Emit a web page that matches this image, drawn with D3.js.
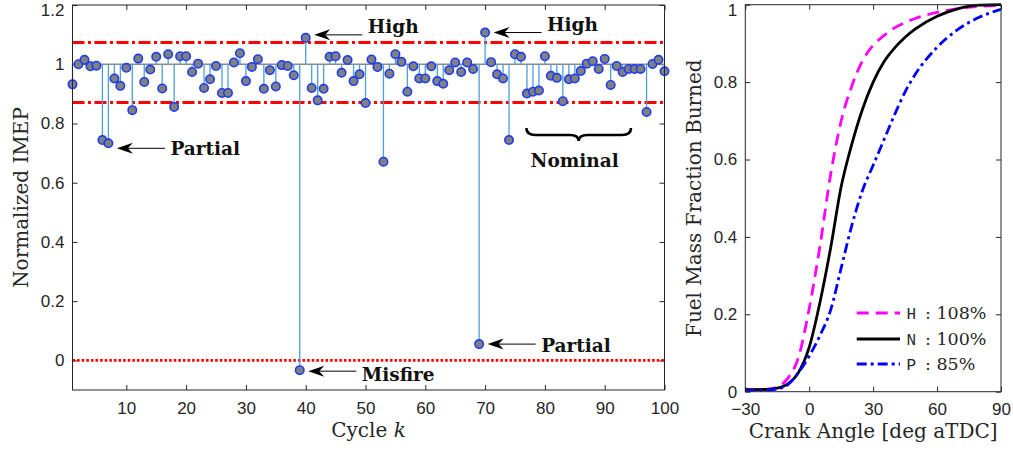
<!DOCTYPE html>
<html>
<head>
<meta charset="utf-8">
<script src="https://cdn.jsdelivr.net/npm/d3@7"></script>
<style>
  body { margin: 0; background: #fff; }
  svg { display: block; }
</style>
</head>
<body>
<svg id="chart" width="1013" height="452"></svg>
<script>
// ---- IMEP per cycle (normalized) ----
const cycles = d3.range(1, 101);
const imep = [
  0.932, 1.000, 1.015, 0.993, 0.995, 0.744, 0.733, 0.952, 0.927, 0.988,
  0.845, 1.019, 0.940, 0.982, 1.025, 0.918, 1.034, 0.856, 1.027, 1.027,
  0.974, 1.002, 0.920, 0.949, 0.994, 0.903, 0.903, 1.006, 1.037, 0.943,
  0.991, 1.017, 0.917, 0.980, 0.925, 0.997, 0.994, 0.963, -0.033, 1.089,
  0.920, 0.878, 0.917, 1.025, 1.027, 0.971, 1.014, 0.943, 0.966, 0.869,
  1.016, 0.991, 0.671, 0.968, 1.034, 1.008, 0.907, 0.993, 0.952, 0.952,
  0.993, 0.943, 0.934, 0.980, 1.006, 0.974, 1.006, 0.984, 0.055, 1.107,
  1.007, 0.966, 0.952, 0.744, 1.034, 1.025, 0.901, 0.907, 0.911, 1.027,
  0.961, 0.954, 0.875, 0.949, 0.952, 0.977, 1.002, 1.010, 0.984, 1.018,
  0.930, 0.994, 0.974, 0.984, 0.984, 0.984, 0.839, 1.001, 1.015, 0.976
];
const stemBase = 1;
const upperLimit = 1.073;
const lowerLimit = 0.871;
const zeroLevel = 0;
const cycleTicks = [10, 20, 30, 40, 50, 60, 70, 80, 90, 100];
const imepTicks = [0, 0.2, 0.4, 0.6, 0.8, 1, 1.2];

// annotated cycles
const notes = [
  { cycle: 7,  label: "Partial", dy: 5,  textDy: 7 },
  { cycle: 40, label: "High",    dy: -3, textDy: -2 },
  { cycle: 70, label: "High",    dy: 0,  textDy: -2 },
  { cycle: 39, label: "Misfire", dy: 1,  textDy: 10 },
  { cycle: 69, label: "Partial", dy: 0,  textDy: 8 }
];
const nominalSpan = [76.9, 94.4];

// ---- mass fraction burned curves ----
const crankAngle = [-30, -20, -15, -10, -5, 0, 5, 10, 15, 20, 25, 30, 35, 40, 45, 50, 60, 70, 80, 90];
const mfbHigh    = [0.005, 0.006, 0.012, 0.035, 0.09, 0.215, 0.375, 0.56, 0.70, 0.79, 0.855, 0.895, 0.92, 0.94, 0.954, 0.965, 0.98, 0.99, 0.996, 0.998];
const mfbNominal = [0.005, 0.006, 0.009, 0.02, 0.05, 0.115, 0.23, 0.37, 0.53, 0.64, 0.73, 0.80, 0.852, 0.888, 0.916, 0.938, 0.97, 0.99, 0.999, 1.0];
const mfbPartial = [0.003, 0.004, 0.007, 0.018, 0.05, 0.092, 0.145, 0.21, 0.32, 0.43, 0.52, 0.585, 0.65, 0.715, 0.775, 0.822, 0.89, 0.937, 0.968, 0.988];
const angleTicks = [-30, 0, 30, 60, 90];
const mfbTicks = [0, 0.2, 0.4, 0.6, 0.8, 1];
const seriesKeys = ["H", "N", "P"];
const seriesText = [": 108%", ": 100%", ": 85%"];

const svg = d3.select("#chart");
const axisColor = "#262626";
const tickFont = "'Liberation Sans', Arial, sans-serif";
const serif = "'DejaVu Serif', serif";

// ================= left panel =================
const L = { x0: 72.5, x1: 664.5, y0: 5, y1: 390 };
const x = d3.scaleLinear().domain([1, 100]).range([L.x0, L.x1]);
const y = d3.scaleLinear().domain([-0.1, 1.2]).range([L.y1, L.y0]);

const left = svg.append("g");

function styleAxis(g) {
  g.select(".domain").remove();
  g.selectAll(".tick line").attr("stroke", axisColor);
  g.selectAll("text").attr("fill", axisColor)
    .style("font-family", tickFont).style("font-size", "17px");
}
// keep the topmost y label inside the page
function nudgeTop(g, topValue) {
  g.selectAll(".tick").filter(d => d === topValue).select("text").attr("y", 5);
}

left.append("g").attr("transform", `translate(0,${L.y1})`)
  .call(d3.axisBottom(x).tickValues(cycleTicks).tickSize(-5).tickPadding(12).tickFormat(d3.format("d")))
  .call(styleAxis);
left.append("g").attr("transform", `translate(0,${L.y0})`)
  .call(d3.axisTop(x).tickValues(cycleTicks).tickSize(-5).tickFormat(""))
  .call(styleAxis);
left.append("g").attr("transform", `translate(${L.x0},0)`)
  .call(d3.axisLeft(y).tickValues(imepTicks).tickSize(-5).tickPadding(8).tickFormat(d => d3.format("")(+d.toFixed(1))))
  .call(styleAxis).call(g => nudgeTop(g, 1.2));
left.append("g").attr("transform", `translate(${L.x1},0)`)
  .call(d3.axisRight(y).tickValues(imepTicks).tickSize(-5).tickFormat(""))
  .call(styleAxis);

// limit lines
left.append("line")
  .attr("x1", L.x0).attr("x2", L.x1).attr("y1", y(upperLimit)).attr("y2", y(upperLimit))
  .attr("stroke", "#ff0000").attr("stroke-width", 3).attr("stroke-dasharray", "12,3.5,3,3.5");
left.append("line")
  .attr("x1", L.x0).attr("x2", L.x1).attr("y1", y(lowerLimit)).attr("y2", y(lowerLimit))
  .attr("stroke", "#ff0000").attr("stroke-width", 3).attr("stroke-dasharray", "12,3.5,3,3.5");
left.append("line")
  .attr("x1", L.x0).attr("x2", L.x1).attr("y1", y(zeroLevel)).attr("y2", y(zeroLevel))
  .attr("stroke", "#ff0000").attr("stroke-width", 2.6).attr("stroke-dasharray", "2.6,2");

// stem baseline
left.append("line")
  .attr("x1", L.x0).attr("x2", L.x1).attr("y1", y(stemBase)).attr("y2", y(stemBase))
  .attr("stroke", "#8a8a8a").attr("stroke-width", 1.6);

// stems
const pts = cycles.map((c, i) => ({ c, v: imep[i] }));
left.append("g").selectAll("line").data(pts).join("line")
  .attr("x1", d => x(d.c)).attr("x2", d => x(d.c))
  .attr("y1", y(stemBase)).attr("y2", d => y(d.v))
  .attr("stroke", "#4c9fd9").attr("stroke-width", 1.3);

// markers
left.append("g").selectAll("circle").data(pts).join("circle")
  .attr("cx", d => x(d.c)).attr("cy", d => y(d.v)).attr("r", 4.2)
  .attr("fill", "#808080").attr("stroke", "#1d3cf0").attr("stroke-width", 1.6);

// frame
left.append("rect")
  .attr("x", L.x0).attr("y", L.y0).attr("width", L.x1 - L.x0).attr("height", L.y1 - L.y0)
  .attr("fill", "none").attr("stroke", axisColor).attr("stroke-width", 1);

// annotation arrows
const arrowG = left.append("g");
notes.forEach(n => {
  const px = x(n.cycle) + 8.5;
  const py = y(imep[n.cycle - 1]) + n.dy;
  const tail = px + 48;
  arrowG.append("line")
    .attr("x1", px + 8).attr("x2", tail).attr("y1", py).attr("y2", py)
    .attr("stroke", "#000").attr("stroke-width", 1);
  arrowG.append("path")
    .attr("d", `M${px},${py} L${px + 16},${py - 5.5} L${px + 11},${py} L${px + 16},${py + 5.5} Z`)
    .attr("fill", "#000");
  arrowG.append("text")
    .attr("x", tail + 5.5).attr("y", py + n.textDy)
    .style("font-family", serif).style("font-weight", "bold").style("font-size", "18.5px")
    .attr("fill", "#111").text(n.label);
});

// brace over the nominal cycles
{
  const bx0 = x(nominalSpan[0]), bx1 = x(nominalSpan[1]);
  const bm = (bx0 + bx1) / 2;
  const yt = 128, yb = 135, tip = 141, r = 9;
  const p = d3.path();
  p.moveTo(bx0, yt);
  p.quadraticCurveTo(bx0, yb, bx0 + r, yb);
  p.lineTo(bm - r, yb);
  p.quadraticCurveTo(bm, yb, bm, tip);
  p.quadraticCurveTo(bm, yb, bm + r, yb);
  p.lineTo(bx1 - r, yb);
  p.quadraticCurveTo(bx1, yb, bx1, yt);
  left.append("path").attr("d", p.toString())
    .attr("fill", "none").attr("stroke", "#000").attr("stroke-width", 2.6);
  left.append("text")
    .attr("x", bm - 4).attr("y", 167).attr("text-anchor", "middle")
    .style("font-family", serif).style("font-weight", "bold").style("font-size", "18.5px")
    .attr("fill", "#111").text("Nominal");
}

// axis titles
left.append("text")
  .attr("x", (L.x0 + L.x1) / 2).attr("y", 437).attr("text-anchor", "middle")
  .style("font-family", serif).style("font-size", "20px").attr("fill", axisColor)
  .call(t => { t.append("tspan").text("Cycle "); t.append("tspan").style("font-style", "italic").text("k"); });
left.append("text")
  .attr("transform", `translate(28,${(L.y0 + L.y1) / 2}) rotate(-90)`)
  .attr("text-anchor", "middle")
  .style("font-family", serif).style("font-size", "20px").attr("fill", axisColor)
  .text("Normalized IMEP");

// ================= right panel =================
const R = { x0: 745.3, x1: 1001, y0: 4.7, y1: 391.7 };
const xr = d3.scaleLinear().domain([-30, 90]).range([R.x0, R.x1]);
const yr = d3.scaleLinear().domain([0, 1]).range([R.y1, R.y0]);
const right = svg.append("g");

right.append("g").attr("transform", `translate(0,${R.y1})`)
  .call(d3.axisBottom(xr).tickValues(angleTicks).tickSize(-5).tickPadding(11).tickFormat(d3.format("d")))
  .call(styleAxis);
right.append("g").attr("transform", `translate(0,${R.y0})`)
  .call(d3.axisTop(xr).tickValues(angleTicks).tickSize(-5).tickFormat(""))
  .call(styleAxis);
right.append("g").attr("transform", `translate(${R.x0},0)`)
  .call(d3.axisLeft(yr).tickValues(mfbTicks).tickSize(-5).tickPadding(8).tickFormat(d => d3.format("")(+d.toFixed(1))))
  .call(styleAxis).call(g => nudgeTop(g, 1));
right.append("g").attr("transform", `translate(${R.x1},0)`)
  .call(d3.axisRight(yr).tickValues(mfbTicks).tickSize(-5).tickFormat(""))
  .call(styleAxis);

const series = [
  { key: seriesKeys[0], text: seriesText[0], vals: mfbHigh,    color: "#ff00ff", dash: "12,7" },
  { key: seriesKeys[1], text: seriesText[1], vals: mfbNominal, color: "#000000", dash: null },
  { key: seriesKeys[2], text: seriesText[2], vals: mfbPartial, color: "#0000ff", dash: "10,4,3,4" }
];
const line = d3.line().x(d => xr(d[0])).y(d => yr(d[1])).curve(d3.curveMonotoneX);

right.append("defs").append("clipPath").attr("id", "rclip")
  .append("rect").attr("x", R.x0).attr("y", R.y0 - 2).attr("width", R.x1 - R.x0).attr("height", R.y1 - R.y0 + 2);

right.append("g").attr("clip-path", "url(#rclip)")
  .selectAll("path").data(series).join("path")
  .attr("d", s => line(crankAngle.map((a, i) => [a, s.vals[i]])))
  .attr("fill", "none").attr("stroke", s => s.color).attr("stroke-width", 2.8)
  .attr("stroke-dasharray", s => s.dash);

right.append("rect")
  .attr("x", R.x0).attr("y", R.y0).attr("width", R.x1 - R.x0).attr("height", R.y1 - R.y0)
  .attr("fill", "none").attr("stroke", axisColor).attr("stroke-width", 1);

// legend
const legRows = [313, 339, 364];
const leg = right.append("g");
series.forEach((s, i) => {
  const ly = legRows[i];
  leg.append("line").attr("x1", 856.7).attr("x2", 900).attr("y1", ly).attr("y2", ly)
    .attr("stroke", s.color).attr("stroke-width", 2.8).attr("stroke-dasharray", s.dash);
  leg.append("text").attr("x", 906.5).attr("y", ly + 6)
    .style("font-family", "'Liberation Mono', 'DejaVu Sans Mono', monospace").style("font-size", "16px")
    .attr("fill", axisColor).text(s.key);
  leg.append("text").attr("x", 925).attr("y", ly + 6)
    .style("font-family", serif).style("font-size", "17.5px")
    .attr("fill", axisColor).text(s.text);
});

right.append("text")
  .attr("x", (R.x0 + R.x1) / 2).attr("y", 438).attr("text-anchor", "middle")
  .style("font-family", serif).style("font-size", "20px").attr("fill", axisColor)
  .text("Crank Angle [deg aTDC]");
right.append("text")
  .attr("transform", `translate(701,${(R.y0 + R.y1) / 2}) rotate(-90)`)
  .attr("text-anchor", "middle")
  .style("font-family", serif).style("font-size", "20px").attr("fill", axisColor)
  .text("Fuel Mass Fraction Burned");
</script>
</body>
</html>
